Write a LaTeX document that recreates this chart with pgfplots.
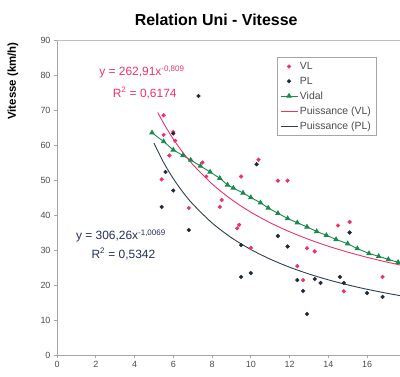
\documentclass[border=0pt]{standalone}
\usepackage{fontspec}
\setmainfont{Liberation Sans}
\usepackage{pgfplots}
\pgfplotsset{compat=1.18}
\definecolor{vlred}{HTML}{E8346A}
\definecolor{pldark}{HTML}{1E2A3C}
\definecolor{vgreen}{HTML}{1A8A4A}
\definecolor{plcurve}{HTML}{2E4050}
\definecolor{eqdark}{HTML}{22305A}
\begin{document}
\begin{tikzpicture}
\begin{axis}[
  scale only axis, width=343bp, height=315bp,
  xmin=0, xmax=17.7, ymin=0, ymax=90,
  axis lines=left, axis line style={-, draw=gray!70, line width=0.8pt},
  xtick={0,2,...,18}, ytick={0,10,...,90},
  tick align=outside, major tick length=3bp,
  tick style={draw=gray!70, line width=0.6pt},
  tick label style={font=\fontsize{9}{10}\selectfont, text=black!70},
  /pgf/number format/assume math mode=true,
  legend style={at={(rel axis cs:0.641,0.946)}, anchor=north west,
    draw=gray!70, font=\fontsize{10.5}{11}\selectfont, text=black!70,
    row sep=2pt, inner sep=3pt},
  legend cell align=left,
  clip=false,
]
\coordinate (O) at (rel axis cs:0,0);
\draw[gray!50, line width=0.6pt] (rel axis cs:0,1) -- (rel axis cs:1,1);
% VL
\addplot[only marks, mark=*, mark size=1.9pt, color=vlred] coordinates {
(5.5,68.5) (5.5,62.9) (6.0,63.7) (6.1,61.2) (5.8,57) (5.4,50.2) (6.8,42)
(7.5,55) (7.7,51) (8.5,44.3) (8.4,42.3) (9.5,51) (10.4,55.8) (9.3,36.2)
(9.4,37.2) (10.0,30.6) (11.4,49.8) (11.9,49.8) (12.9,30.5) (13.3,29.6)
(12.4,25.4) (12.7,21.4) (14.5,37) (15.1,38) (14.8,18.2) (16.8,22.3)
};
\addlegendentry{VL}
% PL
\addplot[only marks, mark=*, mark size=1.9pt, color=pldark] coordinates {
(7.3,74) (6.0,63.3) (5.6,52.3) (6.0,47) (5.4,42.3) (6.8,35.7) (10.3,54.5)
(9.5,31.4) (11.4,34) (11.9,31) (9.5,22.3) (10.0,23.4) (12.4,21.4) (12.7,18.3)
(12.9,11.7) (13.3,21.7) (13.6,20.6) (14.6,22.3) (14.8,20.6) (15.1,35)
(16.0,17.7) (16.8,16.6)
};
\addlegendentry{PL}
% Vidal
\addplot[color=vgreen, line width=0.9pt, mark=triangle*, mark size=2.4pt] coordinates {
(4.9,63.5) (5.5,61) (6.0,58.6) (6.5,57) (6.9,55.7) (7.4,54) (7.9,52.3)
(8.4,50.5) (8.8,48.6) (9.1,47.7) (9.6,46.3) (10.0,45) (10.5,43.5) (10.9,42)
(11.4,40.5) (11.9,39) (12.4,37.8) (12.9,36.6) (13.4,35.3) (13.9,34.2)
(14.4,33) (15.0,31.8) (15.5,30.4) (16.1,29) (16.6,28.2) (17.1,27.3) (17.6,26.5)
};
\addlegendentry{Vidal}
% Puissance (VL)
\addplot[color=vlred, line width=0.9pt, smooth] coordinates {
(5.2,69.29) (5.5,66.22) (6,61.70) (6.5,57.83) (7,54.47) (8,48.89) (9,44.45)
(10,40.82) (11,37.79) (12,35.22) (13,33.01) (14,31.09) (15,29.40) (16,27.91)
(17,26.57) (17.7,25.73)
};
\addlegendentry{Puissance (VL)}
% Puissance (PL)
\addplot[color=plcurve, line width=0.9pt, smooth] coordinates {
(5,60.58) (5.5,55.03) (6,50.41) (6.5,46.51) (7,43.17) (8,37.74) (9,33.52)
(10,30.15) (11,27.39) (12,25.09) (13,23.15) (14,21.48) (15,20.04) (16,18.78)
(17,17.67) (17.7,16.97)
};
\addlegendentry{Puissance (PL)}
\node[anchor=west, text=vlred, font=\fontsize{12}{13}\selectfont] at (axis cs:2.0,80.9) {y = 262,91x\textsuperscript{-0,809}};
\node[anchor=west, text=vlred, font=\fontsize{12}{13}\selectfont] at (axis cs:2.7,74.9) {R\textsuperscript{2} = 0,6174};
\node[anchor=west, text=eqdark, font=\fontsize{12}{13}\selectfont] at (axis cs:0.8,34) {y = 306,26x\textsuperscript{-1,0069}};
\node[anchor=west, text=eqdark, font=\fontsize{12}{13}\selectfont] at (axis cs:1.6,28.9) {R\textsuperscript{2} = 0,5342};
\node[font=\fontsize{16}{18}\selectfont\bfseries] at ([yshift=20bp]rel axis cs:0.464,1) {Relation Uni - Vitesse};
\node[rotate=90, font=\fontsize{11.5}{13}\selectfont\bfseries] at ([xshift=-44bp]rel axis cs:0,0.87) {Vitesse (km/h)};
\end{axis}
\pgfresetboundingbox
\path (O) ++(-57bp,-22bp) rectangle ++(400bp,377bp);
\end{tikzpicture}
\end{document}
